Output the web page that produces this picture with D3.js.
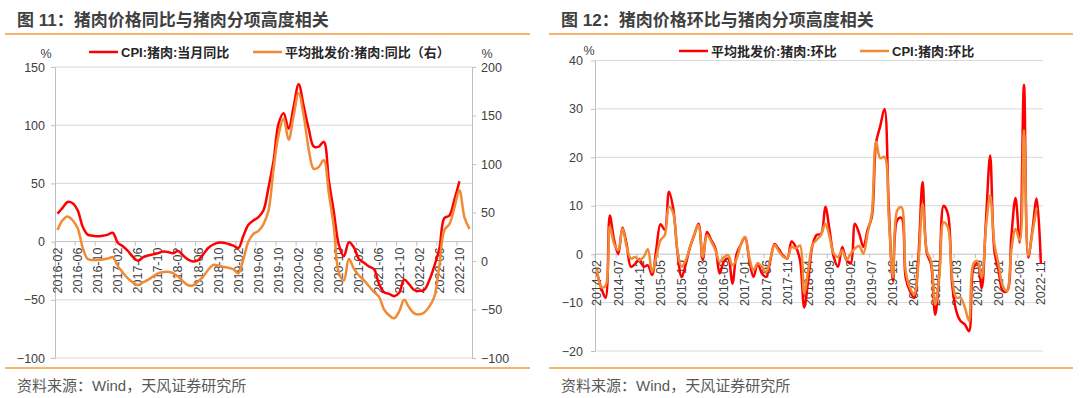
<!DOCTYPE html>
<html>
<head>
<meta charset="utf-8">
<script src="https://cdn.jsdelivr.net/npm/d3@7"></script>
<style>
  body { margin: 0; background: #fff; }
  svg { display: block; }
</style>
</head>
<body>
<svg width="1080" height="398"></svg>
<script>
// --- данные ---------------------------------------------------------------
// категории: месяцы (левый график 2016-02..2022-12, правый 2014-02..2022-11)
function monthRange(start, n) {
    let [y, m] = start.split("-").map(Number);
    const out = [];
    for (let k = 0; k < n; k++) {
        out.push(`${y}-${String(m).padStart(2, "0")}`);
        m++;
        if (m > 12) { m = 1; y++; }
    }
    return out;
}
const leftCategories = monthRange("2016-02", 83);
const rightCategories = monthRange("2014-02", 106);
const leftTickLabels = leftCategories.filter((d, i) => i % 4 === 0);
const rightTickLabels = rightCategories.filter((d, i) => i % 5 === 0);

const leftAxisTicks = [-100, -50, 0, 50, 100, 150];
const rightAxisTicks = [-100, -50, 0, 50, 100, 150, 200];
const momTicks = [-20, -10, 0, 10, 20, 30, 40];

const leftTitle = "图 11：猪肉价格同比与猪肉分项高度相关";
const rightTitle = "图 12：猪肉价格环比与猪肉分项高度相关";
const sourceText = "资料来源：Wind，天风证券研究所";
const leftLegend = ["CPI:猪肉:当月同比", "平均批发价:猪肉:同比（右）"];
const rightLegend = ["平均批发价:猪肉:环比", "CPI:猪肉:环比"];

// CPI:猪肉:当月同比 (левая ось), 2016-02..2022-10
const cpiYoY = [
    24, 29, 34, 33, 27, 13, 6, 5, 4.5, 5, 6, 7.5,
    -1, -4, -8, -13, -16.5, -13.5, -12, -11, -10, -8.5, -9, -10,
    -8, -12, -15.5, -17, -16, -11, -5.5, -2.5, -1, -1, -2, -3.5,
    -5.5, 5, 14.4, 18.2, 21.1, 27, 46.7, 69.3, 101.3, 110.2, 97, 116,
    135.2, 116.4, 96.9, 81.7, 81.6, 85.7, 52.6, 25.5, -2.8, -12.5, -0.5, -5,
    -15, -18.2, -21.4, -23.8, -36.5, -43.5, -44.9, -46.9, -44, -32.7, -36.7, -41.6,
    -42.5, -41.4, -33.3, -21.1, -6, 20.2, 22.4, 36, 51.8
];
// 平均批发价:猪肉:同比 (правая ось), 2016-02..2022-12
const wholesaleYoY = [
    32, 42, 46, 42, 34, 14, 2, 1, 1, 1.5, 2.5, 4,
    -5, -12, -18, -22, -25, -22, -19.5, -16, -12.7, -11.5, -11, -12.5,
    -16, -21, -25, -25, -21, -16, -9, -4, -4.5, -6, -7, -8.6,
    -12.7, 2, 20, 28, 31, 38, 52, 95, 130, 147, 125, 150,
    173, 150, 115, 95, 97, 104, 70, 35, -12, -20, 2, -8,
    -15, -20, -26, -32, -37, -50, -56, -59, -52, -40, -48, -54,
    -55, -53, -47, -37, -5, 32, 38, 55, 73, 45, 33
];
// 平均批发价:猪肉:环比, 2014-02..2022-11
const wholesaleMoM = [
    -4, -7, -9, 8, 3, 0, 5.5, 2, -2.6, -2,
    -1, -2.6, -2.3, -4.3, 1, 6.2, 5, 12.9, 9.5, 0.5,
    -4.7, -2, 1.5, 4, 6.3, -1.2, 4.6, 2.9, 1.2, -4,
    -1.5, -0.9, -6.1, 0, 2, 3.5, -1.2, -4.7, -1.9, -4,
    -4.7, -1.2, 2.1, 1, -0.3, -0.9, 2.6, 1.5, -1.2, -11,
    -5, 2, 4, 4.2, 9.8, 5, -0.6, -2.6, 1.5, -1.2,
    -1.9, 6.3, 4.3, 1.5, 5, 7.7, 23, 26.5, 30, 10,
    -5.5, 7, 7.5, -4.8, -7.6, -9, -0.7, 14.9, 0.3, -2.1,
    -12.5, -3.5, 10, 8.3, -6.2, -11.8, -13.8, -14.5, -15.9, -3,
    -1.7, -7, 6.9, 20.4, 0.7, -3.5, -7.6, -7.6, 3.5, 11.6,
    2.4, 35, -0.7, 5, 11.5, -2
];
// CPI:猪肉:环比, 2014-02..2022-10
const cpiMoM = [
    -3, -6.8, -6.5, 5.7, 2.2, 0.8, 5.3, 1.5, -0.9, -0.6,
    -1.2, -0.6, 1, -3.7, -0.6, 2.9, 3.9, 9.8, 8.5, 0.8,
    -2.6, -1.2, 1.5, 4, 6, -0.6, 3.9, 2.6, 0.8, -1.6,
    -0.6, -0.2, -2.3, -1, 2, 3.6, -0.6, -3.3, -1.9, -2.6,
    -3.7, -0.9, 1.9, 0.6, -0.5, -0.9, 1.5, 1.2, 1.8, -8.1,
    -3, 2, 3, 4, 6.3, 3.6, 0.1, -0.6, 0.8, -1.2,
    0.1, 1.2, 1.7, 0.1, 4.3, 8.4, 23.2, 19.8, 20.1, 7.7,
    -4.7, 9, 9.7, -3.5, -6.9, -8.3, -2.1, 10.4, 0.7, -1.4,
    -10.4, -4.2, 6.6, 5.5, -4.8, -9, -9, -11, -13.8, -2.1,
    -1.4, -4.8, 5.5, 12.1, 2.1, -2.1, -6.6, -7.6, 0.7, 5.2,
    2.8, 25.6, -0.3, 4.5, 9.5
];

// --- оформление -----------------------------------------------------------
const svg = d3.select("svg");
const FONT = '"Liberation Sans", Arial, "Noto Sans CJK SC", sans-serif';
const RED = "#FF0000";
const ORANGE = "#F08A35";
const RULE = "#F39B3E";
const GRID = "#D9D9D9";
const AXIS = "#BFBFBF";
const TEXT = "#404040";

function styleAxis(g) {
    g.attr("font-family", FONT).attr("font-size", 12.5);
    g.select(".domain").attr("stroke", AXIS);
    g.selectAll(".tick line").attr("stroke", AXIS);
    g.selectAll(".tick text").attr("fill", TEXT);
}

// заголовок, оранжевые линии и подпись источника
function drawFrame(x0, x1, title) {
    svg.append("text")
        .attr("x", x0 + 12).attr("y", 26)
        .attr("font-family", FONT).attr("font-size", 17).attr("font-weight", "bold")
        .attr("fill", TEXT)
        .text(title);
    [34, 368].forEach(y => {
        svg.append("line")
            .attr("x1", x0).attr("x2", x1).attr("y1", y).attr("y2", y)
            .attr("stroke", RULE).attr("stroke-width", 1.5);
    });
    svg.append("text")
        .attr("x", x0 + 12).attr("y", 391)
        .attr("font-family", FONT).attr("font-size", 15)
        .attr("fill", "#595959")
        .text(sourceText);
}

function drawLegend(items, y) {
    items.forEach(it => {
        svg.append("line")
            .attr("x1", it.x).attr("x2", it.x + 29).attr("y1", y).attr("y2", y)
            .attr("stroke", it.color).attr("stroke-width", 2.5);
        svg.append("text")
            .attr("x", it.x + 32).attr("y", y).attr("dy", "0.35em")
            .attr("font-family", FONT).attr("font-size", 13).attr("font-weight", "bold")
            .attr("fill", "#262626")
            .text(it.label);
    });
}

function drawGrid(y, ticks, x0, x1) {
    svg.append("g").selectAll("line").data(ticks).join("line")
        .attr("x1", x0).attr("x2", x1)
        .attr("y1", d => y(d)).attr("y2", d => y(d))
        .attr("stroke", GRID).attr("stroke-width", 1);
}

// ось категорий: подписи повернуты, засечки между категориями
function drawCategoryAxis(x, y0, labels, x0, x1) {
    const g = svg.append("g").attr("transform", `translate(0,${y0})`);
    g.append("line").attr("x1", x0).attr("x2", x1)
        .attr("stroke", AXIS);
    const half = x.step() / 2;
    g.selectAll(".tk").data(labels).join("line")
        .attr("x1", d => x(d) - half).attr("x2", d => x(d) - half)
        .attr("y1", 0).attr("y2", 4)
        .attr("stroke", AXIS);
    g.selectAll(".lbl").data(labels).join("text")
        .attr("transform", d => `translate(${x(d)},0) rotate(-90)`)
        .attr("x", -6).attr("dy", "0.35em")
        .attr("text-anchor", "end")
        .attr("font-family", FONT).attr("font-size", 12.5)
        .attr("fill", TEXT)
        .text(d => d);
}

function drawSeries(categories, values, x, y, color) {
    const line = d3.line()
        .x((d, i) => x(categories[i]))
        .y(d => y(d))
        .curve(d3.curveCatmullRom);
    svg.append("path")
        .attr("d", line(values))
        .attr("fill", "none")
        .attr("stroke", color)
        .attr("stroke-width", 2.5)
        .attr("stroke-linejoin", "round");
}

// --- левый график: 同比 ----------------------------------------------------
function drawLeftChart() {
    const plotL = 55, plotR = 472, top = 67, bottom = 358;
    const x = d3.scalePoint().domain(leftCategories).range([plotL, plotR]).padding(0.5);
    const yL = d3.scaleLinear().domain([-100, 150]).range([bottom, top]);
    const yR = d3.scaleLinear().domain([-100, 200]).range([bottom, top]);

    drawFrame(5, 530, leftTitle);
    drawGrid(yL, leftAxisTicks.filter(d => d !== 0), plotL, plotR);

    svg.append("g").attr("transform", `translate(${plotL},0)`)
        .call(d3.axisLeft(yL).tickValues(leftAxisTicks).tickSize(4).tickSizeOuter(0).tickPadding(6))
        .call(styleAxis);
    svg.append("g").attr("transform", `translate(${plotR},0)`)
        .call(d3.axisRight(yR).tickValues(rightAxisTicks).tickSize(4).tickSizeOuter(0).tickPadding(5))
        .call(styleAxis);

    drawCategoryAxis(x, yL(0), leftTickLabels, plotL, plotR);

    svg.append("text").attr("x", 46).attr("y", 58).attr("text-anchor", "middle")
        .attr("font-family", FONT).attr("font-size", 12.5).attr("fill", TEXT).text("%");
    svg.append("text").attr("x", 487).attr("y", 58).attr("text-anchor", "middle")
        .attr("font-family", FONT).attr("font-size", 12.5).attr("fill", TEXT).text("%");

    drawSeries(leftCategories, cpiYoY, x, yL, RED);
    drawSeries(leftCategories, wholesaleYoY, x, yR, ORANGE);

    drawLegend([
        {x: 89, color: RED, label: leftLegend[0]},
        {x: 253, color: ORANGE, label: leftLegend[1]}
    ], 52);
}

// --- правый график: 环比 ---------------------------------------------------
function drawRightChart() {
    const plotL = 595, plotR = 1043, top = 60.5, bottom = 351;
    const x = d3.scalePoint().domain(rightCategories).range([plotL, plotR]).padding(0.5);
    const y = d3.scaleLinear().domain([-20, 40]).range([bottom, top]);

    drawFrame(549, 1073, rightTitle);
    drawGrid(y, momTicks.filter(d => d !== 0), plotL, plotR);

    svg.append("g").attr("transform", `translate(${plotL},0)`)
        .call(d3.axisLeft(y).tickValues(momTicks).tickSize(4).tickSizeOuter(0).tickPadding(8))
        .call(styleAxis);

    drawCategoryAxis(x, y(0), rightTickLabels, plotL, plotR);

    svg.append("text").attr("x", 589).attr("y", 55).attr("text-anchor", "middle")
        .attr("font-family", FONT).attr("font-size", 12.5).attr("fill", TEXT).text("%");

    drawSeries(rightCategories, wholesaleMoM, x, y, RED);
    drawSeries(rightCategories, cpiMoM, x, y, ORANGE);

    drawLegend([
        {x: 679, color: RED, label: rightLegend[0]},
        {x: 860, color: ORANGE, label: rightLegend[1]}
    ], 51);
}

drawLeftChart();
drawRightChart();
</script>
</body>
</html>
